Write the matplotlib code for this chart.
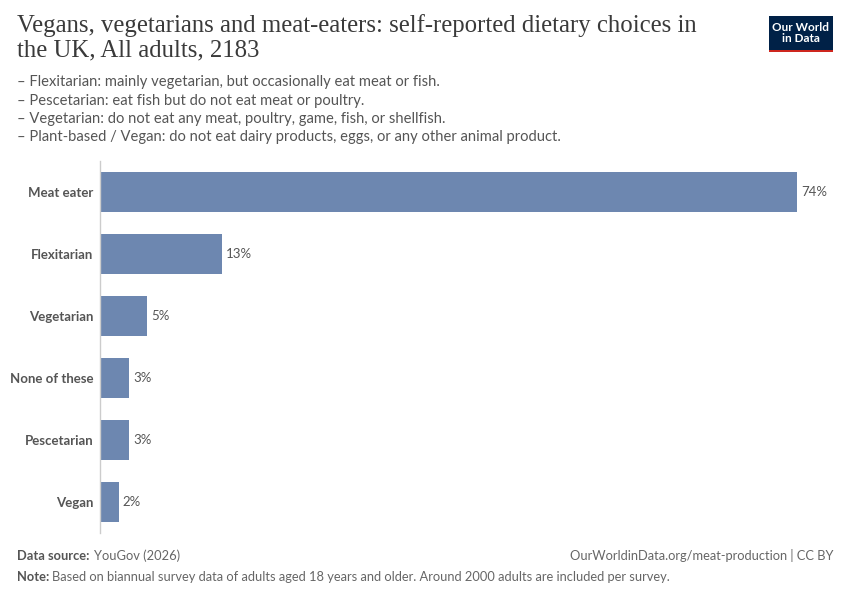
import matplotlib.pyplot as plt
from matplotlib.patches import Rectangle

categories = ["Meat eater", "Flexitarian", "Vegetarian", "None of these", "Pescetarian", "Vegan"]
shares = [74.0, 13.0, 5.0, 3.1, 3.1, 2.0]
value_labels = ["74%", "13%", "5%", "3%", "3%", "2%"]

title = "Vegans, vegetarians and meat-eaters: self-reported dietary choices in\nthe UK, All adults, 2183"
subtitle = [
    "– Flexitarian: mainly vegetarian, but occasionally eat meat or fish.",
    "– Pescetarian: eat fish but do not eat meat or poultry.",
    "– Vegetarian: do not eat any meat, poultry, game, fish, or shellfish.",
    "– Plant-based / Vegan: do not eat dairy products, eggs, or any other animal product.",
]

W, H = 850, 600
fig = plt.figure(figsize=(8.5, 6), dpi=100)
fig.patch.set_facecolor("white")

# axes placed in pixel terms
left, right, top, bottom = 100, 797, 161, 533
ax = fig.add_axes([left / W, 1 - bottom / H, (right - left) / W, (bottom - top) / H])

y = list(range(len(categories)))
ax.barh(y, shares, height=0.64, color="#6d87b0")
ax.set_xlim(0, shares[0])
ax.set_ylim(len(categories) - 0.5, -0.5)

for yi, v, lab in zip(y, shares, value_labels):
    ax.text(v + 0.4, yi, lab, va="center", ha="left", fontsize=9.5,
            family="Lato", color="#555555")

ax.set_yticks(y)
ax.set_yticklabels(categories, fontsize=9.5, family="Lato", fontweight="bold", color="#555555")
ax.tick_params(axis="y", length=0, pad=5)
ax.set_xticks([])
for s in ["top", "right", "bottom"]:
    ax.spines[s].set_visible(False)
ax.spines["left"].set_color("#cccccc")
ax.spines["left"].set_linewidth(1)

# title and subtitle
fig.text(17 / W, 1 - 14 / H, title, ha="left", va="top", fontsize=17.8,
         family="Liberation Serif", color="#3a3a3a", linespacing=1.12)
for i, line in enumerate(subtitle):
    fig.text(17 / W, 1 - (82 + i * 18.5) / H, line, ha="left", va="center",
             fontsize=10.65, family="Lato", color="#555555")

# footer
fs = 9.25
fig.text(17 / W, 1 - 556 / H, "Data source:", ha="left", va="center", fontsize=fs,
         family="Lato", fontweight="bold", color="#555555")
fig.text(94 / W, 1 - 556 / H, "YouGov (2026)", ha="left", va="center", fontsize=fs,
         family="Lato", color="#666666")
fig.text(833 / W, 1 - 556 / H, "OurWorldinData.org/meat-production | CC BY", ha="right",
         va="center", fontsize=fs, family="Lato", color="#666666")
fig.text(17 / W, 1 - 577 / H, "Note:", ha="left", va="center", fontsize=fs,
         family="Lato", fontweight="bold", color="#555555")
fig.text(52 / W, 1 - 577 / H,
         "Based on biannual survey data of adults aged 18 years and older. Around 2000 adults are included per survey.",
         ha="left", va="center", fontsize=fs, family="Lato", color="#666666")

# logo
fig.patches.append(Rectangle((769 / W, 1 - 52 / H), 64 / W, 36 / H, transform=fig.transFigure,
                             facecolor="#002147", edgecolor="none"))
fig.patches.append(Rectangle((769 / W, 1 - 52 / H), 64 / W, 2.5 / H, transform=fig.transFigure,
                             facecolor="#ce261e", edgecolor="none"))
fig.text(801 / W, 1 - 33 / H, "Our World\nin Data", ha="center", va="center", fontsize=8.5,
         family="Lato", fontweight="bold", color="white", linespacing=1.0)

fig.savefig("out.png", dpi=100)
